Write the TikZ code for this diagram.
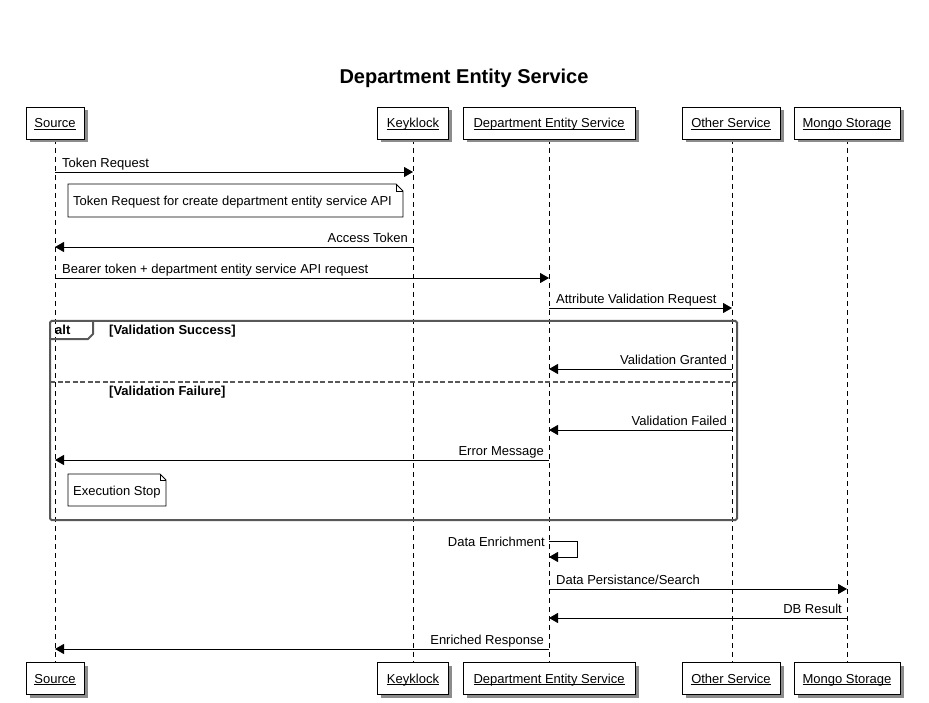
\documentclass[tikz,border=0pt]{standalone}
\usepackage{fontspec}
\setmainfont{Liberation Sans}
\usetikzlibrary{arrows.meta,shadows}
\definecolor{framegray}{RGB}{88,88,88}
\definecolor{shadowgray}{RGB}{140,140,140}
\newcommand{\pptname}[1]{\underline{\smash{#1}}}
\begin{document}
\begin{tikzpicture}[x=1pt,y=-1pt,
  part/.style={draw=black,fill=white,line width=0.8pt,minimum height=32pt,inner sep=0pt,
    text height=12pt,text depth=2pt,
    font=\fontsize{13}{15}\selectfont,
    drop shadow={shadow xshift=3.5pt,shadow yshift=-3.5pt,fill=shadowgray,opacity=1}},
  lifeline/.style={draw=black,line width=0.8pt,dash pattern=on 5pt off 4pt},
  msg/.style={draw=black,line width=0.9pt,-{Triangle[length=9pt,width=10pt]}},
  lbl/.style={font=\fontsize{13}{15}\selectfont,inner sep=0pt},
  blbl/.style={font=\fontsize{13}{15}\selectfont\bfseries,inner sep=0pt},
  notebox/.style={draw=black,fill=white,line width=0.8pt,line join=miter},
  framebox/.style={draw=framegray,line width=2pt,rounded corners=1.5pt},
  framesep/.style={draw=framegray,line width=2pt,dash pattern=on 5pt off 2.5pt}
]
\useasboundingbox (0,0) rectangle (929,703);
\fill[white] (0,0) rectangle (929,703);

% title
\node[inner sep=0pt,anchor=base,font=\fontsize{20}{24}\selectfont\bfseries] (title) at (464,84) {Department Entity Service};

% lifeline anchors (top / bottom)
\coordinate (srcL) at (55,139);   \coordinate (srcLb) at (55,662);
\coordinate (kcL) at (413,139);   \coordinate (kcLb) at (413,662);
\coordinate (desL) at (549,139);  \coordinate (desLb) at (549,662);
\coordinate (othL) at (732,139);  \coordinate (othLb) at (732,662);
\coordinate (monL) at (847,139);  \coordinate (monLb) at (847,662);

\draw[lifeline] (srcL) -- (srcLb);
\draw[lifeline] (kcL) -- (kcLb);
\draw[lifeline] (desL) -- (desLb);
\draw[lifeline] (othL) -- (othLb);
\draw[lifeline] (monL) -- (monLb);

% participants top
\node[part,minimum width=58pt] (srcT) at (55,123) {\pptname{Source}};
\node[part,minimum width=71pt] (kcT) at (413,123) {\pptname{Keyklock}};
\node[part,minimum width=172pt] (desT) at (549,123) {\pptname{Department Entity Service}};
\node[part,minimum width=98pt] (othT) at (731,123) {\pptname{Other Service}};
\node[part,minimum width=106pt] (monT) at (847,123) {\pptname{Mongo Storage}};
% participants bottom
\node[part,minimum width=58pt] (srcB) at (55,678) {\pptname{Source}};
\node[part,minimum width=71pt] (kcB) at (413,678) {\pptname{Keyklock}};
\node[part,minimum width=172pt] (desB) at (549,678) {\pptname{Department Entity Service}};
\node[part,minimum width=98pt] (othB) at (731,678) {\pptname{Other Service}};
\node[part,minimum width=106pt] (monB) at (847,678) {\pptname{Mongo Storage}};

% message 1
\coordinate (m1a) at (srcL |- 0,172); \coordinate (m1b) at (kcL |- 0,172);
\draw[msg] (m1a) -- (m1b);
\node[lbl,anchor=base west] (t1) at (62,167.5) {Token Request};

% note 1
\draw[notebox] (68,184) -- (396,184) -- (403,191) -- (403,217) -- (68,217) -- cycle;
\draw[black,line width=0.6pt] (396,184) -- (396,191) -- (403,191);
\node[lbl,anchor=base west] (n1) at (73,205.5) {Token Request for create department entity service API};

% message 2
\coordinate (m2a) at (kcL |- 0,247); \coordinate (m2b) at (srcL |- 0,247);
\draw[msg] (m2a) -- (m2b);
\node[lbl,anchor=base east] (t2) at (408,242.5) {Access Token};

% message 3
\coordinate (m3a) at (srcL |- 0,278); \coordinate (m3b) at (desL |- 0,278);
\draw[msg] (m3a) -- (m3b);
\node[lbl,anchor=base west] (t3) at (62,273.5) {Bearer token + department entity service API request};

% message 4
\coordinate (m4a) at (desL |- 0,308); \coordinate (m4b) at (othL |- 0,308);
\draw[msg] (m4a) -- (m4b);
\node[lbl,anchor=base west] (t4) at (556,303.5) {Attribute Validation Request};

% alt frame
\draw[framebox] (50,321) rectangle (737,520);
\draw[draw=framegray,line width=2pt,line join=round] (50,339) -- (88,339) -- (93,334) -- (93,321);
\node[blbl,anchor=base west] (altl) at (55,334.5) {alt};
\node[blbl,anchor=base west] (g1) at (109,334.5) {[Validation Success]};
\draw[framesep] (50,381.5) -- (737,381.5);
\node[blbl,anchor=base west] (g2) at (109,395.5) {[Validation Failure]};

% message 5
\coordinate (m5a) at (othL |- 0,369); \coordinate (m5b) at (desL |- 0,369);
\draw[msg] (m5a) -- (m5b);
\node[lbl,anchor=base east] (t5) at (727,364.5) {Validation Granted};

% message 6
\coordinate (m6a) at (othL |- 0,430); \coordinate (m6b) at (desL |- 0,430);
\draw[msg] (m6a) -- (m6b);
\node[lbl,anchor=base east] (t6) at (727,425.5) {Validation Failed};

% message 7
\coordinate (m7a) at (desL |- 0,460); \coordinate (m7b) at (srcL |- 0,460);
\draw[msg] (m7a) -- (m7b);
\node[lbl,anchor=base east] (t7) at (544,455.5) {Error Message};

% note 2
\draw[notebox] (68,474) -- (160,474) -- (166,480) -- (166,506) -- (68,506) -- cycle;
\draw[black,line width=0.6pt] (160,474) -- (160,480) -- (166,480);
\node[lbl,anchor=base west] (n2) at (73,495) {Execution Stop};

% message 8 (self)
\coordinate (m8a) at (desL |- 0,541); \coordinate (m8b) at (desL |- 0,557);
\draw[msg] (m8a) -- ++(28,0) -- ++(0,16) -- (m8b);
\node[lbl,anchor=base east] (t8) at (545,546.5) {Data Enrichment};

% message 9
\coordinate (m9a) at (desL |- 0,589); \coordinate (m9b) at (monL |- 0,589);
\draw[msg] (m9a) -- (m9b);
\node[lbl,anchor=base west] (t9) at (556,584.5) {Data Persistance/Search};

% message 10
\coordinate (m10a) at (monL |- 0,618); \coordinate (m10b) at (desL |- 0,618);
\draw[msg] (m10a) -- (m10b);
\node[lbl,anchor=base east] (t10) at (842,613.5) {DB Result};

% message 11
\coordinate (m11a) at (desL |- 0,649); \coordinate (m11b) at (srcL |- 0,649);
\draw[msg] (m11a) -- (m11b);
\node[lbl,anchor=base east] (t11) at (544,644.5) {Enriched Response};
\end{tikzpicture}
\end{document}
